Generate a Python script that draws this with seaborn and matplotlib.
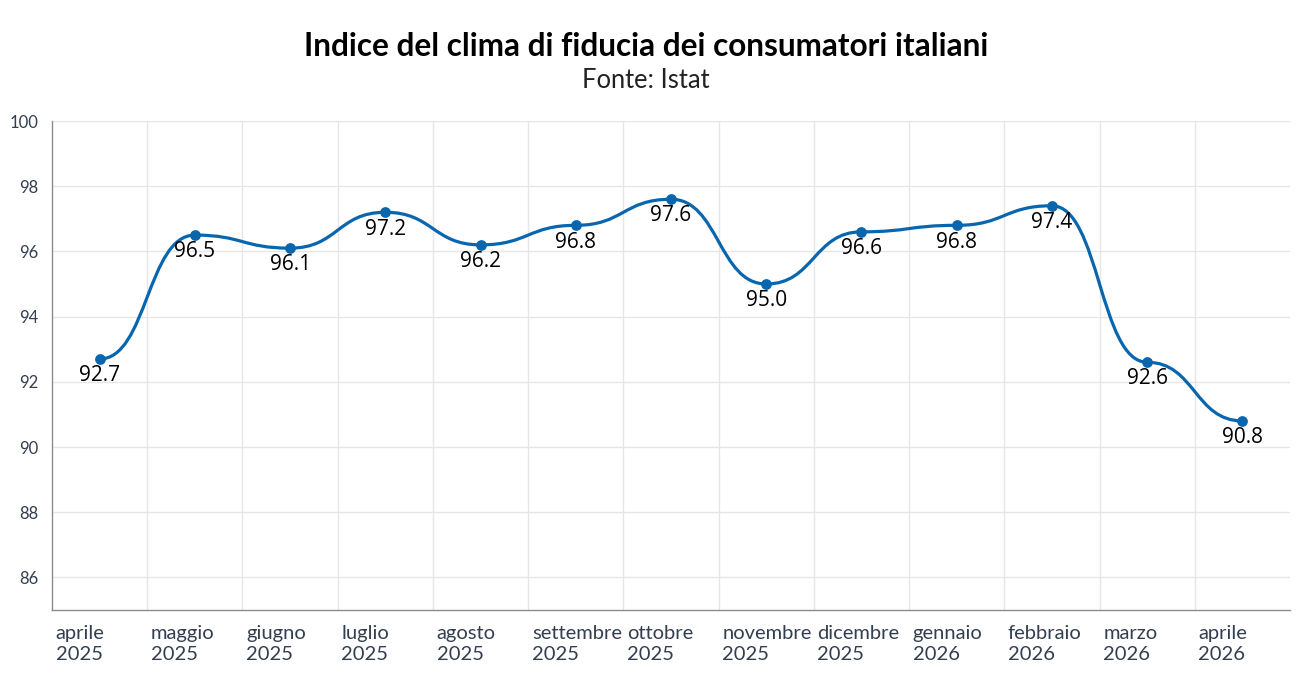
import numpy as np
import seaborn as sns
import matplotlib.pyplot as plt
import matplotlib.transforms as mtransforms
from matplotlib.path import Path
from matplotlib.patches import PathPatch

months = ['aprile', 'maggio', 'giugno', 'luglio', 'agosto', 'settembre', 'ottobre',
          'novembre', 'dicembre', 'gennaio', 'febbraio', 'marzo', 'aprile']
years = ['2025', '2025', '2025', '2025', '2025', '2025', '2025',
         '2025', '2025', '2026', '2026', '2026', '2026']
values = [92.7, 96.5, 96.1, 97.2, 96.2, 96.8, 97.6, 95.0, 96.6, 96.8, 97.4, 92.6, 90.8]

blue = '#0866ae'
tick_color = '#333f50'

sns.set_theme(style='white')
plt.rcParams['font.family'] = ['Lato', 'DejaVu Sans']

fig = plt.figure(figsize=(13.12, 6.98), dpi=100)
ax = fig.add_axes([52 / 1312, 1 - 610 / 698, (1290 - 52) / 1312, (610 - 121) / 698])

x = np.arange(len(values), dtype=float)
y = np.array(values, dtype=float)


# smooth curve with flat tangents at every point (bump-x style bezier)
def bump_path(xs, ys):
    verts = [(xs[0], ys[0])]
    codes = [Path.MOVETO]
    for i in range(1, len(xs)):
        xm = (xs[i - 1] + xs[i]) / 2
        verts += [(xm, ys[i - 1]), (xm, ys[i]), (xs[i], ys[i])]
        codes += [Path.CURVE4] * 3
    return Path(verts, codes)


ax.add_patch(PathPatch(bump_path(x, y), fill=False, edgecolor=blue, lw=2.3,
                       capstyle='round', joinstyle='round', zorder=3))
sns.scatterplot(x=x, y=y, color=blue, s=60, edgecolor=blue, linewidth=0, zorder=4, ax=ax)

for xi, yi in zip(x, y):
    ax.annotate(f'{yi:.1f}', (xi, yi), xytext=(0, -4.5), textcoords='offset points',
                ha='center', va='top', fontsize=15, family='Open Sans',
                color='black', zorder=5)

ax.set_xlim(-0.5, len(values) - 0.5)
ax.set_ylim(85, 100)
ax.set_yticks(np.arange(86, 101, 2))
ax.set_xticks(x)
ax.set_xticklabels([f'{m}\n{yr}' for m, yr in zip(months, years)])
ax.set_xticks(np.arange(0.5, len(values) - 1, 1), minor=True)

ax.grid(False)
ax.grid(True, axis='y', which='major', color='#e6e6e6', lw=1)
ax.grid(True, axis='x', which='minor', color='#e6e6e6', lw=1)
ax.set_axisbelow(True)

for s in ['top', 'right']:
    ax.spines[s].set_visible(False)
for s in ['left', 'bottom']:
    ax.spines[s].set_color('#8c8c8c')
    ax.spines[s].set_linewidth(1)

ax.tick_params(axis='y', which='major', length=7, width=1, color='#8c8c8c',
               labelsize=12, labelcolor=tick_color, pad=3)
ax.tick_params(axis='x', which='major', length=7, width=1, color='#8c8c8c',
               labelsize=14.5, labelcolor=tick_color, pad=4)
ax.tick_params(axis='x', which='minor', length=0)

shift = mtransforms.ScaledTranslation(-0.44, 0, fig.dpi_scale_trans)
for lab in ax.get_xticklabels():
    lab.set_ha('left')
    lab.set_linespacing(1.28)
    lab.set_transform(lab.get_transform() + shift)

fig.text(646 / 1312, 1 - 46 / 698, 'Indice del clima di fiducia dei consumatori italiani',
         ha='center', va='center', fontsize=22.7, fontweight='bold', color='black')
fig.text(646 / 1312, 1 - 80 / 698, 'Fonte: Istat', ha='center', va='center',
         fontsize=18.4, color='#222222')

fig.savefig('out.png', dpi=100)
